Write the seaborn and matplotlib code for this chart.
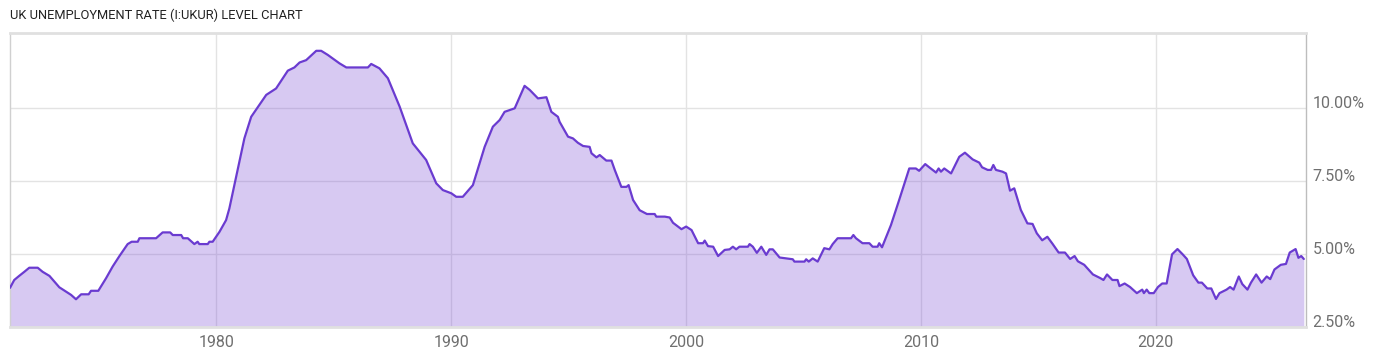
import matplotlib
matplotlib.use("Agg")
import matplotlib.pyplot as plt
import matplotlib.transforms as mtransforms
import seaborn as sns
import pandas as pd

years = [1971.21, 1971.39, 1971.60, 1971.82, 1972.03, 1972.39, 1972.60, 1972.89, 1973.31, 1973.60,
         1973.81, 1974.02, 1974.24, 1974.56, 1974.66, 1974.97, 1975.30, 1975.58, 1975.87, 1976.22,
         1976.39, 1976.65, 1976.72, 1977.43, 1977.71, 1978.03, 1978.14, 1978.50, 1978.58, 1978.78,
         1979.06, 1979.20, 1979.27, 1979.63, 1979.70, 1979.84, 1980.13, 1980.41, 1980.55, 1980.84,
         1981.19, 1981.48, 1982.12, 1982.54, 1983.04, 1983.32, 1983.54, 1983.82, 1984.25, 1984.46,
         1984.74, 1985.24, 1985.53, 1986.45, 1986.59, 1986.94, 1987.30, 1987.80, 1988.36, 1988.93,
         1989.36, 1989.64, 1990.00, 1990.21, 1990.49, 1990.92, 1991.42, 1991.77, 1992.06, 1992.27,
         1992.70, 1993.12, 1993.34, 1993.69, 1994.05, 1994.26, 1994.54, 1994.61, 1994.97, 1995.18,
         1995.39, 1995.61, 1995.89, 1995.97, 1996.18, 1996.32, 1996.60, 1996.82, 1996.96, 1997.24,
         1997.46, 1997.55, 1997.74, 1998.02, 1998.33, 1998.66, 1998.73, 1999.09, 1999.30, 1999.44,
         1999.80, 2000.00, 2000.23, 2000.51, 2000.72, 2000.79, 2000.93, 2001.15, 2001.36, 2001.64,
         2001.85, 2001.99, 2002.13, 2002.27, 2002.63, 2002.70, 2002.84, 2003.01, 2003.20, 2003.41,
         2003.55, 2003.69, 2003.98, 2004.54, 2004.61, 2005.04, 2005.11, 2005.22, 2005.39, 2005.60,
         2005.88, 2006.10, 2006.24, 2006.45, 2007.02, 2007.12, 2007.23, 2007.51, 2007.80, 2007.94,
         2008.15, 2008.22, 2008.34, 2008.72, 2009.07, 2009.50, 2009.78, 2009.92, 2010.18, 2010.35,
         2010.64, 2010.75, 2010.85, 2010.99, 2011.28, 2011.63, 2011.87, 2012.20, 2012.48, 2012.60,
         2012.84, 2012.98, 2013.08, 2013.19, 2013.47, 2013.62, 2013.79, 2013.97, 2014.25, 2014.53,
         2014.75, 2014.93, 2015.16, 2015.38, 2015.60, 2015.86, 2016.13, 2016.35, 2016.54, 2016.68,
         2016.95, 2017.32, 2017.62, 2017.77, 2017.92, 2018.15, 2018.37, 2018.45, 2018.67, 2018.90,
         2019.19, 2019.42, 2019.49, 2019.61, 2019.72, 2019.91, 2020.09, 2020.27, 2020.46, 2020.69,
         2020.92, 2021.14, 2021.32, 2021.59, 2021.81, 2021.96, 2022.19, 2022.36, 2022.56, 2022.71,
         2023.01, 2023.16, 2023.31, 2023.53, 2023.68, 2023.90, 2024.05, 2024.27, 2024.50, 2024.72,
         2024.87, 2025.05, 2025.32, 2025.54, 2025.70, 2025.95, 2026.07, 2026.19, 2026.30]

rate = [3.84, 4.11, 4.25, 4.39, 4.53, 4.53, 4.39, 4.25, 3.86, 3.71,
        3.60, 3.45, 3.62, 3.62, 3.74, 3.74, 4.17, 4.57, 4.93, 5.34,
        5.42, 5.42, 5.54, 5.54, 5.74, 5.74, 5.65, 5.65, 5.54, 5.54,
        5.34, 5.42, 5.34, 5.34, 5.42, 5.42, 5.76, 6.16, 6.56, 7.65,
        8.96, 9.70, 10.45, 10.67, 11.28, 11.39, 11.56, 11.64, 11.96, 11.96,
        11.82, 11.53, 11.39, 11.39, 11.51, 11.36, 11.02, 10.05, 8.79, 8.22,
        7.42, 7.19, 7.08, 6.96, 6.96, 7.36, 8.67, 9.36, 9.59, 9.87,
        9.99, 10.76, 10.62, 10.33, 10.37, 9.87, 9.70, 9.53, 9.02, 8.96,
        8.81, 8.70, 8.67, 8.45, 8.31, 8.39, 8.20, 8.20, 7.88, 7.30,
        7.30, 7.36, 6.85, 6.50, 6.37, 6.37, 6.28, 6.28, 6.25, 6.07,
        5.85, 5.94, 5.82, 5.37, 5.37, 5.46, 5.27, 5.25, 4.93, 5.14,
        5.16, 5.25, 5.16, 5.25, 5.25, 5.34, 5.25, 5.04, 5.25, 4.97,
        5.16, 5.16, 4.88, 4.82, 4.74, 4.74, 4.82, 4.74, 4.85, 4.74,
        5.20, 5.16, 5.34, 5.54, 5.54, 5.65, 5.54, 5.37, 5.37, 5.25,
        5.25, 5.37, 5.23, 5.99, 6.85, 7.93, 7.93, 7.85, 8.08, 7.97,
        7.79, 7.93, 7.82, 7.93, 7.76, 8.33, 8.47, 8.24, 8.13, 7.97,
        7.88, 7.88, 8.05, 7.88, 7.82, 7.76, 7.17, 7.25, 6.51, 6.05,
        6.03, 5.71, 5.47, 5.59, 5.35, 5.05, 5.05, 4.83, 4.93, 4.75,
        4.63, 4.30, 4.18, 4.11, 4.30, 4.11, 4.11, 3.90, 3.99, 3.87,
        3.66, 3.78, 3.66, 3.78, 3.66, 3.66, 3.87, 3.99, 3.99, 4.99,
        5.17, 4.99, 4.83, 4.27, 4.02, 4.02, 3.82, 3.82, 3.46, 3.66,
        3.78, 3.87, 3.78, 4.23, 3.97, 3.78, 4.02, 4.30, 4.02, 4.23,
        4.14, 4.47, 4.63, 4.66, 5.05, 5.17, 4.87, 4.93, 4.83]

x_ticks = [1980, 1990, 2000, 2010, 2020]
y_ticks = [2.5, 5.0, 7.5, 10.0]
y_tick_labels = ["2.50%", "5.00%", "7.50%", "10.00%"]
title = "UK UNEMPLOYMENT RATE (I:UKUR) LEVEL CHART"

df = pd.DataFrame({"year": years, "rate": rate})

sns.set_style("white")
plt.rcParams["font.family"] = ["Roboto", "DejaVu Sans"]

fig = plt.figure(figsize=(14, 3.57), dpi=100)
ax = fig.add_axes([10 / 1400, 30 / 357, (1305.7 - 10) / 1400, (327 - 33) / 357])

line_color = "#6a3bd0"
ax.fill_between(df["year"], df["rate"], 2.5, color="#7c4dd6", alpha=0.30, linewidth=0, zorder=2)
sns.lineplot(data=df, x="year", y="rate", ax=ax, color=line_color, linewidth=1.6, zorder=3)

ax.set_xlim(1971.21, 2026.38)
ax.set_ylim(2.5, 12.57)

ax.set_xticks(x_ticks)
ax.set_xticklabels([str(t) for t in x_ticks])
ax.set_yticks(y_ticks)
ax.set_yticklabels(y_tick_labels)
ax.yaxis.tick_right()
ax.set_xlabel("")
ax.set_ylabel("")

ax.grid(True, color="#e3e3e3", linewidth=1.0, zorder=0)
ax.set_axisbelow(True)

ax.tick_params(axis="both", length=0, labelsize=11.5, labelcolor="#6f6f6f")
ax.tick_params(axis="x", pad=6)
ax.tick_params(axis="y", pad=5)

offset = mtransforms.ScaledTranslation(0, 0.06, fig.dpi_scale_trans)
for lbl in ax.get_yticklabels():
    lbl.set_transform(lbl.get_transform() + offset)
    lbl.set_horizontalalignment("left")

for side in ["top", "bottom"]:
    ax.spines[side].set_color("#e0e0e0")
    ax.spines[side].set_linewidth(2.0)
ax.spines["left"].set_color("#d0d0d0")
ax.spines["left"].set_linewidth(1.0)
ax.spines["right"].set_color("#bdbdbd")
ax.spines["right"].set_linewidth(1.0)

fig.text(10 / 1400, 1 - 15 / 357, title, fontsize=9.3, color="#222222", ha="left", va="center")

fig.savefig("out.png", dpi=100)
